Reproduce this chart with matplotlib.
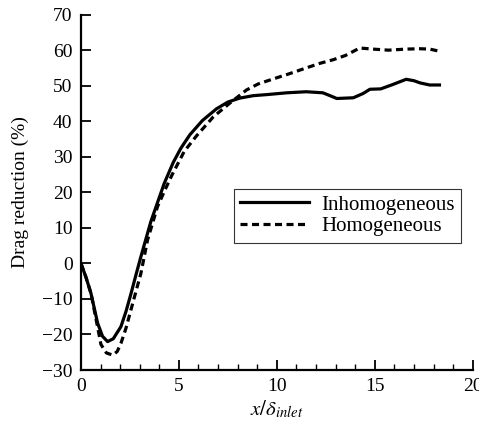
import numpy as np
import matplotlib
matplotlib.use("Agg")
import matplotlib.pyplot as plt
from matplotlib.ticker import MultipleLocator

plt.rcParams['font.family'] = ['Liberation Serif', 'DejaVu Serif']
plt.rcParams['mathtext.fontset'] = 'stix'

# Inhomogeneous (solid)
x_inh = [0.0, 0.25, 0.51, 0.85, 1.1, 1.36, 1.65, 2.04, 2.3, 2.55, 2.8, 3.06, 3.57,
         4.25, 4.71, 5.1, 5.56, 6.2, 6.92, 7.5, 8.1, 8.8, 9.5, 10.5, 11.5, 12.35,
         12.8, 13.06, 13.9, 14.4, 14.75, 15.3, 15.9, 16.6, 17.0, 17.3, 17.8, 18.3]
y_inh = [0.0, -3.8, -8.4, -16.8, -20.5, -22.0, -21.2, -17.8, -13.5, -8.6, -3.4, 1.9, 11.8,
         22.5, 28.4, 32.4, 36.2, 40.2, 43.5, 45.4, 46.5, 47.2, 47.5, 48.0, 48.3, 48.0,
         47.0, 46.4, 46.6, 47.8, 49.0, 49.1, 50.3, 51.8, 51.4, 50.8, 50.2, 50.2]

# Homogeneous (dashed)
x_hom = [0.0, 0.25, 0.51, 0.8, 1.02, 1.3, 1.62, 1.85, 2.04, 2.3, 2.55, 3.06, 3.4,
         3.91, 4.3, 4.64, 5.27, 5.9, 6.75, 7.6, 8.45, 9.05, 9.81, 10.6, 11.5, 12.2,
         12.87, 13.5, 14.23, 14.9, 15.7, 16.6, 17.3, 17.8, 18.3]
y_hom = [0.0, -3.8, -8.4, -16.5, -22.8, -25.2, -25.8, -24.8, -22.5, -18.2, -13.1, -2.8, 6.6,
         16.0, 20.8, 24.8, 31.5, 35.9, 41.2, 45.1, 48.8, 50.5, 51.9, 53.3, 55.0, 56.3,
         57.3, 58.5, 60.6, 60.3, 60.0, 60.3, 60.4, 60.3, 59.7]

fig = plt.figure(figsize=(4.79, 4.30), dpi=100)
ax = fig.add_axes([0.169, 0.1395, 0.818, 0.8265])

ax.plot(x_inh, y_inh, color='black', lw=2.3, ls='-', label='Inhomogeneous')
ax.plot(x_hom, y_hom, color='black', lw=2.3, ls=(0, (2.2, 1.4)), label='Homogeneous')

ax.set_xlim(0, 20)
ax.set_ylim(-30, 70)
ax.xaxis.set_major_locator(MultipleLocator(5))
ax.xaxis.set_minor_locator(MultipleLocator(1))

for s in ['top', 'right']:
    ax.spines[s].set_visible(False)
for s in ['left', 'bottom']:
    ax.spines[s].set_linewidth(1.6)

ax.tick_params(which='major', direction='in', length=7, width=1.3, labelsize=14, pad=6)
ax.tick_params(which='minor', direction='in', length=4, width=1.0)

yt = list(range(-30, 71, 10))
ax.set_yticks(yt)
ax.set_yticklabels([('\u2212' + str(-v) if v < 0 else str(v)) for v in yt])

ax.set_xlabel(r'$x/\delta_{inlet}$', fontsize=15, labelpad=2)
ax.set_ylabel('Drag reduction (%)', fontsize=14, labelpad=9)

leg = ax.legend(loc='upper left', bbox_to_anchor=(0.391, 0.51), fontsize=15,
                frameon=True, fancybox=False, handlelength=3.3, borderpad=0.3,
                labelspacing=0.1, handletextpad=0.6, borderaxespad=0)
leg.get_frame().set_edgecolor('black')
leg.get_frame().set_linewidth(0.8)

fig.savefig('out.png', dpi=100)
